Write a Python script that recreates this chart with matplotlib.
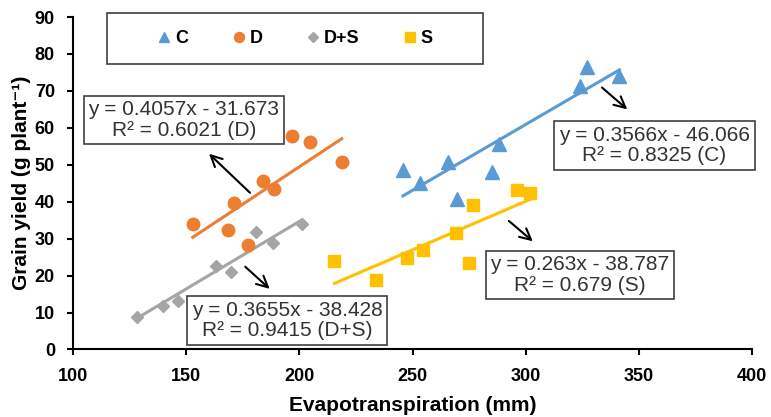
import matplotlib.pyplot as plt
from matplotlib.patches import Rectangle

plt.rcParams['font.family'] = ['Liberation Sans', 'DejaVu Sans']

# Evapotranspiration (mm) and grain yield (g plant-1) per treatment
c_et = [245.8, 253.3, 265.6, 269.5, 285.0, 288.4, 324.0, 327.3, 341.4]
c_y = [48.6, 45.2, 50.7, 40.8, 48.0, 55.7, 71.4, 76.5, 73.9]
d_et = [152.9, 168.4, 171.3, 177.5, 184.1, 188.8, 196.6, 204.7, 218.7]
d_y = [33.9, 32.4, 39.6, 28.3, 45.7, 43.4, 57.9, 56.3, 50.7]
ds_et = [128.1, 139.6, 146.5, 163.2, 169.8, 180.7, 188.5, 201.0]
ds_y = [8.9, 11.8, 13.0, 22.7, 21.1, 31.9, 28.8, 33.9]
s_et = [215.5, 233.7, 247.4, 254.8, 269.2, 275.1, 276.9, 296.0, 302.0]
s_y = [24.0, 18.8, 24.7, 26.8, 31.5, 23.4, 39.2, 43.2, 42.3]

# trendline coefficients (slope, intercept, R2)
fits = {
    'C': (0.3566, -46.066, 0.8325),
    'D': (0.4057, -31.673, 0.6021),
    'D+S': (0.3655, -38.428, 0.9415),
    'S': (0.263, -38.787, 0.679),
}

series = [
    ('C', c_et, c_y, '#5B9BD5', '^', 9.5),
    ('D', d_et, d_y, '#ED7D31', 'o', 9.0),
    ('D+S', ds_et, ds_y, '#A5A5A5', 'D', 6.3),
    ('S', s_et, s_y, '#FFC000', 's', 8.5),
]

# label box position, arrow tail, arrow head (data coords)
notes = {
    'D': ((149.0, 62.1), (179.1, 41.9), (159.2, 53.5)),
    'C': ((356.9, 55.2), (332.8, 71.4), (345.8, 64.5)),
    'D+S': ((194.5, 7.9), (175.2, 22.9), (187.8, 15.9)),
    'S': ((323.9, 20.2), (291.6, 35.3), (304.1, 28.8)),
}

fig = plt.figure(figsize=(7.71, 4.17), dpi=100)
ax = fig.add_axes([0.0947, 0.1619, 0.8807, 0.7973])

handles = []
for name, xs, ys, col, mk, ms in series:
    h, = ax.plot(xs, ys, ls='none', marker=mk, ms=ms, color=col, mec=col, label=name, zorder=3)
    handles.append(h)
    m, b, r2 = fits[name]
    x0, x1 = min(xs), max(xs)
    ax.plot([x0, x1], [m * x0 + b, m * x1 + b], color=col, lw=2.2, zorder=2)

for name, (pos, tail, head) in notes.items():
    m, b, r2 = fits[name]
    txt = 'y = %gx - %.3f\nR² = %g (%s)' % (m, -b, r2, name)
    ax.text(pos[0], pos[1], txt, ha='center', va='center', fontsize=15,
            color='#333333', linespacing=1.1, zorder=5,
            bbox=dict(boxstyle='square,pad=0.22', fc='white', ec='#404040', lw=1.2))
    ax.annotate('', xy=head, xytext=tail,
                arrowprops=dict(arrowstyle='->', color='black', lw=1.5, mutation_scale=20))

ax.set_xlim(100, 400)
ax.set_ylim(0, 90)
ax.set_xticks(range(100, 401, 50))
ax.set_yticks(range(0, 91, 10))
for sp in ['top', 'right']:
    ax.spines[sp].set_visible(False)
for sp in ['left', 'bottom']:
    ax.spines[sp].set_linewidth(1.5)
ax.tick_params(direction='out', length=4, width=1.5, pad=9, labelsize=13)
for lab in ax.get_xticklabels() + ax.get_yticklabels():
    lab.set_fontweight('bold')
ax.set_xlabel('Evapotranspiration (mm)', fontsize=15, fontweight='bold', labelpad=8)
ax.set_ylabel('Grain yield (g plant\u207b\u00b9)', fontsize=15, fontweight='bold', labelpad=3)

leg = ax.legend(handles=handles, ncol=4, loc='center', bbox_to_anchor=(0.3826, 0.9077),
                bbox_transform=fig.transFigure, frameon=False, markerscale=0.8,
                handlelength=0.8, handletextpad=0.2, columnspacing=2.4,
                prop={'weight': 'bold', 'size': 13})
fig.patches.append(Rectangle((0.1388, 0.8465), 0.4877, 0.1223, transform=fig.transFigure,
                             fill=False, ec='#404040', lw=1.2))

fig.savefig('out.png', dpi=100)
